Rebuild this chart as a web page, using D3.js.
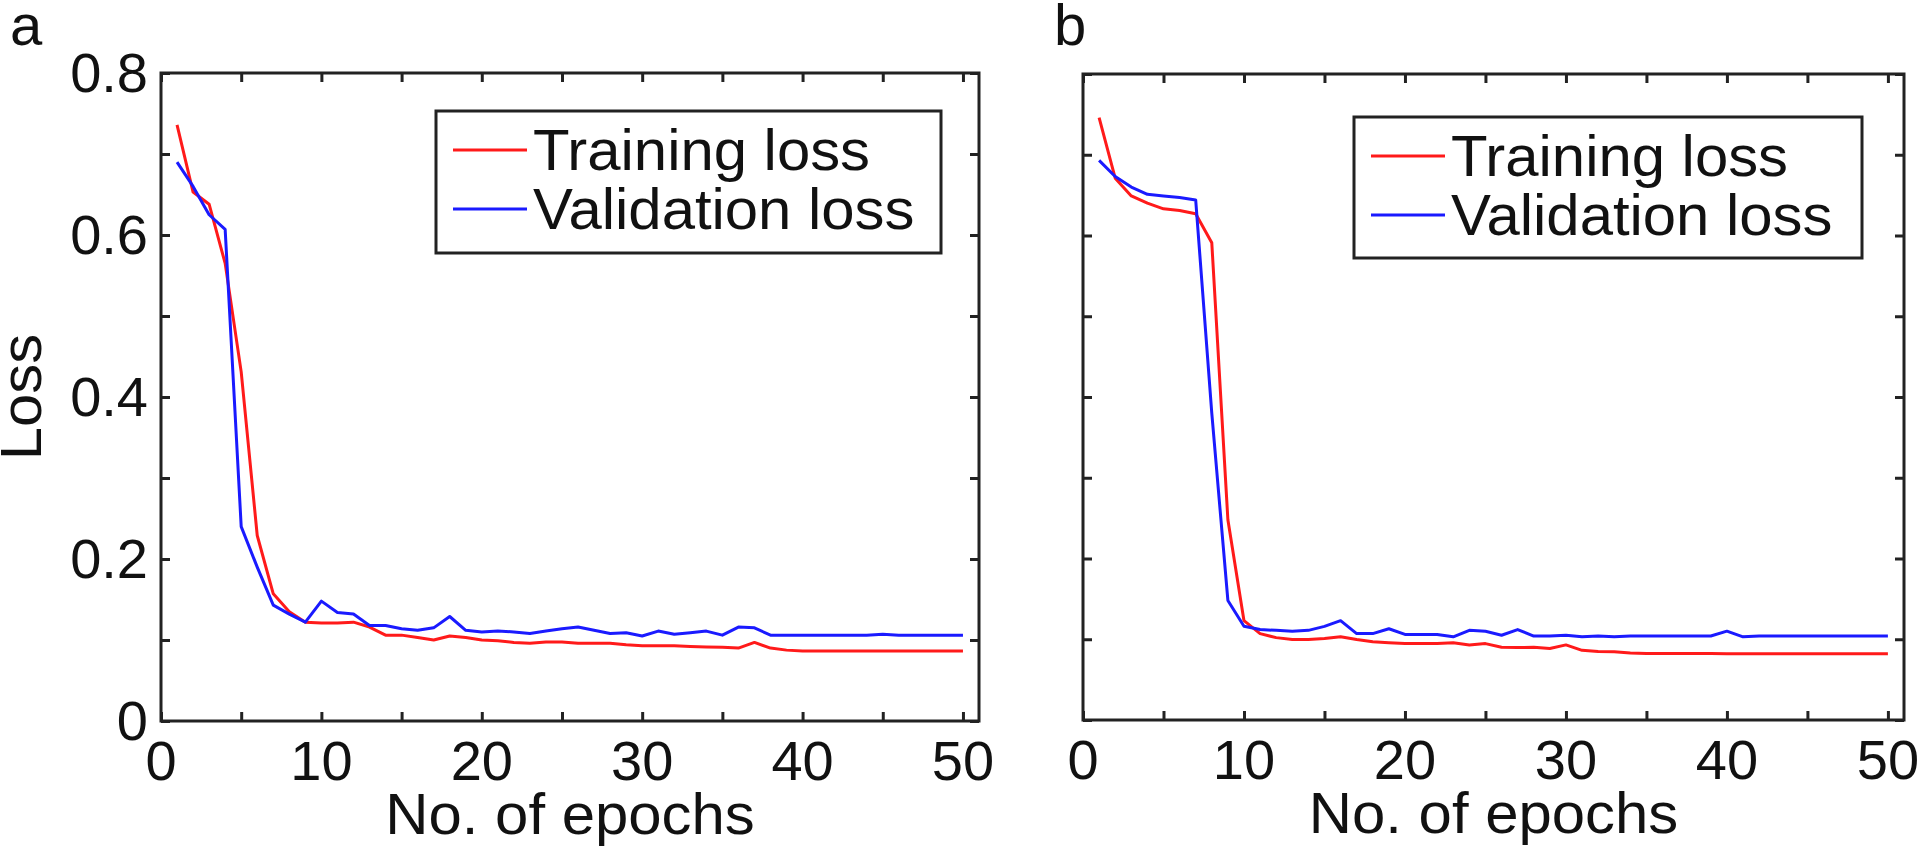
<!DOCTYPE html>
<html>
<head>
<meta charset="utf-8">
<script src="https://cdn.jsdelivr.net/npm/d3@7"></script>
<style>
  html, body { margin: 0; padding: 0; background: #fff; }
  svg { display: block; }
  text { font-family: "Liberation Sans", Arial, Helvetica, sans-serif; fill: #111; }
</style>
</head>
<body>
<svg id="chart" width="1920" height="853"></svg>
<script>
// ---------------- data ----------------
const epochs = d3.range(1, 51);

const trainA = [0.736, 0.653, 0.638, 0.565, 0.431, 0.229, 0.157, 0.135, 0.122, 0.121,
                0.121, 0.122, 0.116, 0.106, 0.106, 0.103, 0.100, 0.105, 0.103, 0.100,
                0.099, 0.097, 0.096, 0.0975, 0.0975, 0.096, 0.096, 0.096, 0.094, 0.093,
                0.093, 0.093, 0.092, 0.0914, 0.091, 0.090, 0.097, 0.090, 0.0875, 0.0865,
                0.0864, 0.0864, 0.0864, 0.0864, 0.0864, 0.0864, 0.0864, 0.0864, 0.0864, 0.0864];
const validA = [0.690, 0.660, 0.625, 0.607, 0.240, 0.190, 0.143, 0.132, 0.122, 0.148,
                0.134, 0.132, 0.118, 0.118, 0.114, 0.112, 0.115, 0.129, 0.112, 0.110,
                0.111, 0.110, 0.108, 0.111, 0.114, 0.116, 0.112, 0.108, 0.109, 0.105,
                0.111, 0.107, 0.109, 0.111, 0.106, 0.116, 0.115, 0.106, 0.106, 0.106,
                0.106, 0.106, 0.106, 0.106, 0.107, 0.106, 0.106, 0.106, 0.106, 0.106];
const trainB = [0.746, 0.671, 0.649, 0.640, 0.633, 0.631, 0.627, 0.591, 0.248, 0.123,
                0.107, 0.102, 0.0996, 0.0996, 0.101, 0.103, 0.0996, 0.097, 0.0957, 0.0946,
                0.0946, 0.0946, 0.0957, 0.093, 0.0946, 0.090, 0.0897, 0.090, 0.0885, 0.093,
                0.0863, 0.0847, 0.0845, 0.083, 0.0825, 0.0825, 0.0822, 0.0822, 0.0822, 0.082,
                0.082, 0.082, 0.082, 0.082, 0.082, 0.0819, 0.0819, 0.0819, 0.0819, 0.0819];
const validB = [0.693, 0.673, 0.660, 0.651, 0.649, 0.647, 0.644, 0.380, 0.148, 0.116,
                0.112, 0.111, 0.110, 0.111, 0.116, 0.123, 0.107, 0.107, 0.113, 0.106,
                0.106, 0.106, 0.103, 0.111, 0.110, 0.105, 0.112, 0.104, 0.104, 0.105,
                0.103, 0.104, 0.103, 0.104, 0.104, 0.104, 0.104, 0.104, 0.104, 0.110,
                0.103, 0.104, 0.104, 0.104, 0.104, 0.104, 0.104, 0.104, 0.104, 0.104];

const xTickValues = [0, 10, 20, 30, 40, 50];
const xMinorTicks = d3.range(0, 51, 5);
const yTickValues = [0, 0.2, 0.4, 0.6, 0.8];
const yMinorTicks = d3.range(0, 0.81, 0.1);
const seriesNames = ["Training loss", "Validation loss"];
const seriesColors = ["#ff1a1a", "#1a1aff"];
const panelLabels = ["a", "b"];
const xLabel = "No. of epochs";
const yLabel = "Loss";

// ---------------- layout ----------------
const svg = d3.select("#chart");
const panels = [
  { label: panelLabels[0], x0: 161, x1: 979, y0: 721, y1: 73, train: trainA, valid: validA,
    showYLabels: true, legend: { x: 436, y: 111, w: 505, h: 142 }, labelPos: [10, 45] },
  { label: panelLabels[1], x0: 1083, x1: 1904, y0: 720, y1: 74, train: trainB, valid: validB,
    showYLabels: false, legend: { x: 1354, y: 117, w: 508, h: 141 }, labelPos: [1054, 45] }
];
const axisColor = "#222";
const tickFont = 56;
const textFont = 57;
const stretch = 1.05;
const tickLen = 9;

panels.forEach(p => {
  const x = d3.scaleLinear().domain([0, 51]).range([p.x0, p.x1]);
  const y = d3.scaleLinear().domain([0, 0.8]).range([p.y0, p.y1]);
  const g = svg.append("g");

  // data lines
  const line = d3.line().x((d, i) => x(epochs[i])).y(d => y(d));
  [p.train, p.valid].forEach((s, k) => {
    g.append("path").datum(s)
      .attr("d", line)
      .attr("fill", "none")
      .attr("stroke", seriesColors[k])
      .attr("stroke-width", 3)
      .attr("stroke-linejoin", "round");
  });

  // axes via d3 axis (ticks inward, no labels) on all four sides
  const mk = (axis) => axis.tickSizeInner(-tickLen).tickSizeOuter(0).tickFormat("");
  const gb = g.append("g").attr("transform", `translate(0,${p.y0})`).call(mk(d3.axisBottom(x).tickValues(xMinorTicks)));
  const gt = g.append("g").attr("transform", `translate(0,${p.y1})`).call(mk(d3.axisTop(x).tickValues(xMinorTicks)));
  const gl = g.append("g").attr("transform", `translate(${p.x0},0)`).call(mk(d3.axisLeft(y).tickValues(yMinorTicks)));
  const gr = g.append("g").attr("transform", `translate(${p.x1},0)`).call(mk(d3.axisRight(y).tickValues(yMinorTicks)));
  [gb, gt, gl, gr].forEach(a => {
    a.selectAll("path.domain").remove();
    a.selectAll("line").attr("stroke", axisColor).attr("stroke-width", 3);
    a.selectAll("text").remove();
  });
  // frame
  g.append("rect")
    .attr("x", p.x0).attr("y", p.y1)
    .attr("width", p.x1 - p.x0).attr("height", p.y0 - p.y1)
    .attr("fill", "none").attr("stroke", axisColor).attr("stroke-width", 3);

  // x tick labels
  g.selectAll(".xt").data(xTickValues).enter().append("text")
    .attr("x", d => x(d)).attr("y", p.y0 + 59)
    .attr("text-anchor", "middle")
    .attr("font-size", tickFont)
    .text(d => d3.format("d")(d));

  // y tick labels
  if (p.showYLabels) {
    g.selectAll(".yt").data(yTickValues).enter().append("text")
      .attr("x", p.x0 - 13).attr("y", d => y(d) + 19)
      .attr("text-anchor", "end")
      .attr("font-size", tickFont)
      .text(d => d === 0 ? "0" : d3.format(".1f")(d));
    g.append("text")
      .attr("transform", `translate(${p.x0 - 120},${(p.y0 + p.y1) / 2}) rotate(-90) scale(${stretch},1)`)
      .attr("text-anchor", "middle")
      .attr("font-size", textFont)
      .text(yLabel);
  }

  // x axis title
  g.append("text")
    .attr("transform", `translate(${(p.x0 + p.x1) / 2},${p.y0 + 113}) scale(${stretch},1)`)
    .attr("text-anchor", "middle")
    .attr("font-size", textFont)
    .text(xLabel);

  // panel label
  g.append("text")
    .attr("x", p.labelPos[0]).attr("y", p.labelPos[1])
    .attr("font-size", 58)
    .text(p.label);

  // legend
  const L = p.legend;
  const lg = g.append("g").attr("transform", `translate(${L.x},${L.y})`);
  lg.append("rect").attr("width", L.w).attr("height", L.h)
    .attr("fill", "#fff").attr("stroke", axisColor).attr("stroke-width", 3);
  seriesNames.forEach((name, k) => {
    const cy = 39 + k * 59;
    lg.append("line").attr("x1", 17).attr("x2", 91).attr("y1", cy).attr("y2", cy)
      .attr("stroke", seriesColors[k]).attr("stroke-width", 3);
    lg.append("text")
      .attr("transform", `translate(97,${cy + 20}) scale(${stretch},1)`)
      .attr("font-size", textFont)
      .text(name);
  });
});
</script>
</body>
</html>
